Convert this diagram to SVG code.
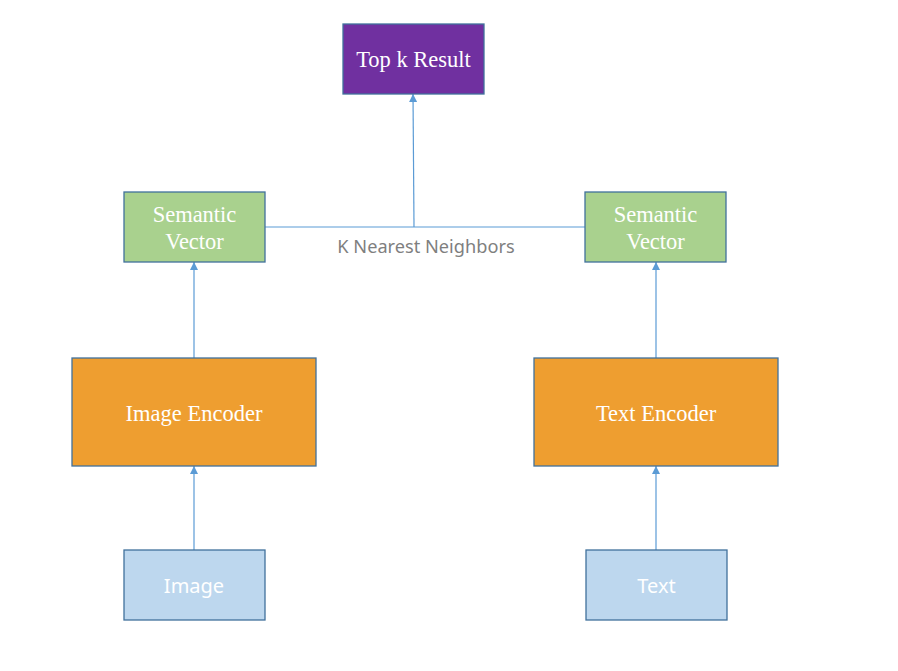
<svg xmlns="http://www.w3.org/2000/svg" width="898" height="671" viewBox="0 0 898 671">
<style>
.box{stroke:#41719C;stroke-width:1.3}
.serif{font-family:"Liberation Serif","Times New Roman",serif;font-size:22.5px;fill:#FFFFFF;text-anchor:middle}
.sans{font-family:"Noto Sans","Liberation Sans",sans-serif;font-size:20px;fill:#FFFFFF;text-anchor:middle}
.conn{stroke:#5B9BD5;stroke-width:1.2;fill:none}
.lbl{font-family:"Noto Sans","Liberation Sans",sans-serif;font-size:18.2px;fill:#7F7F7F;text-anchor:middle}
</style>
<defs>
<marker id="arr" viewBox="0 0 10 10" refX="10" refY="5" markerWidth="8" markerHeight="8" markerUnits="userSpaceOnUse" orient="auto">
<path d="M0,0 L10,5 L0,10 Z" fill="#5B9BD5"/>
</marker>
</defs>
<rect width="898" height="671" fill="#FFFFFF"/>
<g id="connectors">
<line class="conn" x1="194" y1="550" x2="194" y2="466" marker-end="url(#arr)"/>
<line class="conn" x1="194" y1="358" x2="194" y2="262" marker-end="url(#arr)"/>
<line class="conn" x1="656" y1="550" x2="656" y2="466" marker-end="url(#arr)"/>
<line class="conn" x1="656" y1="358" x2="656" y2="262" marker-end="url(#arr)"/>
<line class="conn" x1="265" y1="227" x2="585" y2="227"/>
<line class="conn" x1="414" y1="227" x2="413" y2="94" marker-end="url(#arr)"/>
<text class="lbl" x="426" y="253">K Nearest Neighbors</text>
</g>
<g id="topk">
<rect class="box" x="343" y="24" width="141" height="70" fill="#7030A0"/>
<text class="serif" x="413.5" y="67">Top k Result</text>
</g>
<g id="semantic-left">
<rect class="box" x="124" y="192" width="141" height="70" fill="#A9D18E"/>
<text class="serif" x="194.5" y="222">Semantic</text>
<text class="serif" x="194.5" y="249">Vector</text>
</g>
<g id="semantic-right">
<rect class="box" x="585" y="192" width="141" height="70" fill="#A9D18E"/>
<text class="serif" x="655.5" y="222">Semantic</text>
<text class="serif" x="655.5" y="249">Vector</text>
</g>
<g id="image-encoder">
<rect class="box" x="72" y="358" width="244" height="108" fill="#EE9E30"/>
<text class="serif" x="194" y="421">Image Encoder</text>
</g>
<g id="text-encoder">
<rect class="box" x="534" y="358" width="244" height="108" fill="#EE9E30"/>
<text class="serif" x="656" y="421">Text Encoder</text>
</g>
<g id="image">
<rect class="box" x="124" y="550" width="141" height="70" fill="#BDD7EE"/>
<text class="sans" x="194" y="593">Image</text>
</g>
<g id="text">
<rect class="box" x="586" y="550" width="141" height="70" fill="#BDD7EE"/>
<text class="sans" x="656.5" y="593">Text</text>
</g>
</svg>
